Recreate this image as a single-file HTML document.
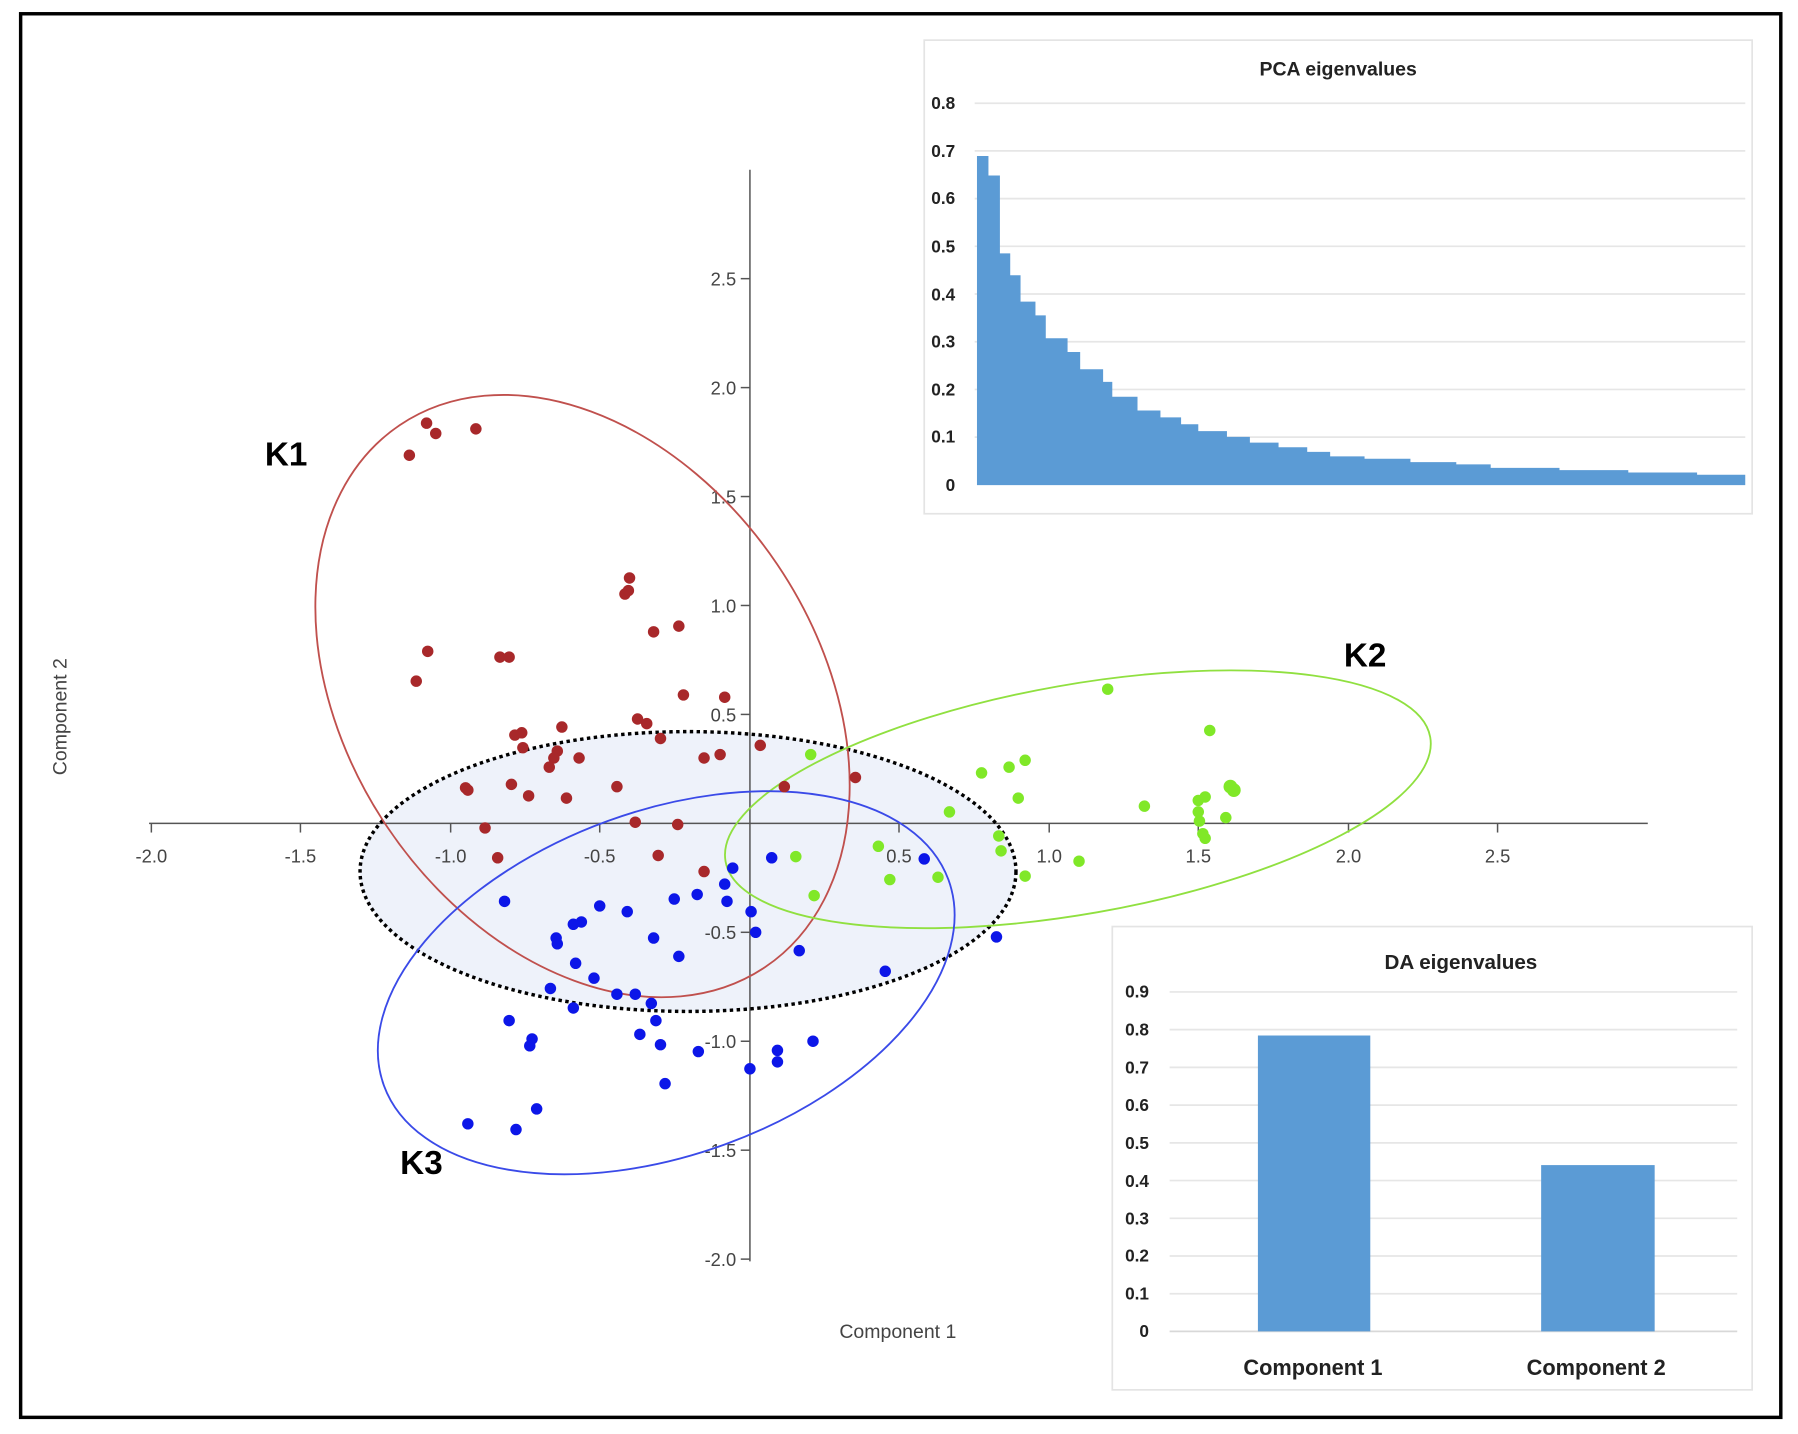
<!DOCTYPE html>
<html><head><meta charset="utf-8"><style>
html,body{margin:0;padding:0;background:#fff;}
svg{display:block;}
text{font-family:"Liberation Sans",sans-serif;}
</style></head><body>
<svg width="1798" height="1434" viewBox="0 0 1568 1250.5" preserveAspectRatio="none" xmlns="http://www.w3.org/2000/svg">
<rect x="0" y="0" width="1568" height="1251" fill="#fff"/>
<rect x="18" y="12" width="1535" height="1224" fill="none" stroke="#000" stroke-width="3"/>

<ellipse cx="600" cy="760" rx="286" ry="122" fill="#eef2fa"/>

<g stroke="#555" stroke-width="1.3">
<line x1="130" y1="718" x2="1437" y2="718"/>
<line x1="654" y1="148" x2="654" y2="1100"/>
<line x1="132" y1="718" x2="132" y2="726"/><line x1="262" y1="718" x2="262" y2="726"/><line x1="393" y1="718" x2="393" y2="726"/><line x1="523" y1="718" x2="523" y2="726"/><line x1="784" y1="718" x2="784" y2="726"/><line x1="915" y1="718" x2="915" y2="726"/><line x1="1045" y1="718" x2="1045" y2="726"/><line x1="1176" y1="718" x2="1176" y2="726"/><line x1="1306" y1="718" x2="1306" y2="726"/>
<line x1="646" y1="243" x2="654" y2="243"/><line x1="646" y1="338" x2="654" y2="338"/><line x1="646" y1="433" x2="654" y2="433"/><line x1="646" y1="528" x2="654" y2="528"/><line x1="646" y1="623" x2="654" y2="623"/><line x1="646" y1="813" x2="654" y2="813"/><line x1="646" y1="908" x2="654" y2="908"/><line x1="646" y1="1003" x2="654" y2="1003"/><line x1="646" y1="1098" x2="654" y2="1098"/>
</g>
<g font-size="16" fill="#444" text-anchor="middle">
<text x="132" y="752">-2.0</text><text x="262" y="752">-1.5</text><text x="393" y="752">-1.0</text><text x="523" y="752">-0.5</text><text x="784" y="752">0.5</text><text x="915" y="752">1.0</text><text x="1045" y="752">1.5</text><text x="1176" y="752">2.0</text><text x="1306" y="752">2.5</text>
</g>
<g font-size="16" fill="#444" text-anchor="end">
<text x="642" y="249">2.5</text><text x="642" y="344">2.0</text><text x="642" y="439">1.5</text><text x="642" y="534">1.0</text><text x="642" y="629">0.5</text><text x="642" y="819">-0.5</text><text x="642" y="914">-1.0</text><text x="642" y="1009">-1.5</text><text x="642" y="1104">-2.0</text>
</g>
<text x="783" y="1167" font-size="17" fill="#444" text-anchor="middle">Component 1</text>
<text transform="translate(58,625) rotate(-90)" font-size="17" fill="#444" text-anchor="middle">Component 2</text>

<ellipse cx="600" cy="760" rx="286" ry="122" fill="none" stroke="#000" stroke-width="3" stroke-dasharray="3,3"/>
<ellipse cx="508" cy="607" rx="205" ry="285" transform="rotate(-34 508 607)" fill="none" stroke="#c0504d" stroke-width="1.6"/>
<ellipse cx="940" cy="697" rx="312" ry="100" transform="rotate(-10 940 697)" fill="none" stroke="#90e040" stroke-width="1.6"/>
<ellipse cx="581" cy="857" rx="262" ry="150" transform="rotate(-20 581 857)" fill="none" stroke="#3a4ae8" stroke-width="1.6"/>

<g fill="#a8282a">
<circle cx="357" cy="397" r="5"/><circle cx="372" cy="369" r="5"/><circle cx="380" cy="378" r="5"/><circle cx="415" cy="374" r="5"/><circle cx="549" cy="504" r="5"/><circle cx="545" cy="518" r="5"/><circle cx="548" cy="515" r="5"/><circle cx="570" cy="551" r="5"/><circle cx="592" cy="546" r="5"/><circle cx="373" cy="568" r="5"/><circle cx="363" cy="594" r="5"/><circle cx="436" cy="573" r="5"/><circle cx="444" cy="573" r="5"/><circle cx="596" cy="606" r="5"/><circle cx="632" cy="608" r="5"/><circle cx="449" cy="641" r="5"/><circle cx="455" cy="639" r="5"/><circle cx="490" cy="634" r="5"/><circle cx="556" cy="627" r="5"/><circle cx="564" cy="631" r="5"/><circle cx="576" cy="644" r="5"/><circle cx="456" cy="652" r="5"/><circle cx="486" cy="655" r="5"/><circle cx="483" cy="661" r="5"/><circle cx="479" cy="669" r="5"/><circle cx="505" cy="661" r="5"/><circle cx="614" cy="661" r="5"/><circle cx="628" cy="658" r="5"/><circle cx="663" cy="650" r="5"/><circle cx="746" cy="678" r="5"/><circle cx="406" cy="687" r="5"/><circle cx="408" cy="689" r="5"/><circle cx="446" cy="684" r="5"/><circle cx="461" cy="694" r="5"/><circle cx="494" cy="696" r="5"/><circle cx="538" cy="686" r="5"/><circle cx="684" cy="686" r="5"/><circle cx="423" cy="722" r="5"/><circle cx="554" cy="717" r="5"/><circle cx="591" cy="719" r="5"/><circle cx="434" cy="748" r="5"/><circle cx="574" cy="746" r="5"/><circle cx="614" cy="760" r="5"/>
</g>
<g fill="#80e828">
<circle cx="966" cy="601" r="5"/><circle cx="1055" cy="637" r="5"/><circle cx="707" cy="658" r="5"/><circle cx="856" cy="674" r="5"/><circle cx="880" cy="669" r="5"/><circle cx="894" cy="663" r="5"/><circle cx="888" cy="696" r="5"/><circle cx="828" cy="708" r="5"/><circle cx="998" cy="703" r="5"/><circle cx="1045" cy="698" r="5"/><circle cx="1051" cy="695" r="5"/><circle cx="1073" cy="686" r="6"/><circle cx="1076" cy="689" r="6"/><circle cx="1045" cy="708" r="5"/><circle cx="1046" cy="716" r="5"/><circle cx="1069" cy="713" r="5"/><circle cx="1049" cy="727" r="5"/><circle cx="1051" cy="731" r="5"/><circle cx="694" cy="747" r="5"/><circle cx="710" cy="781" r="5"/><circle cx="766" cy="738" r="5"/><circle cx="776" cy="767" r="5"/><circle cx="818" cy="765" r="5"/><circle cx="871" cy="729" r="5"/><circle cx="873" cy="742" r="5"/><circle cx="894" cy="764" r="5"/><circle cx="941" cy="751" r="5"/>
</g>
<g fill="#0c16e8">
<circle cx="639" cy="757" r="5"/><circle cx="673" cy="748" r="5"/><circle cx="632" cy="771" r="5"/><circle cx="634" cy="786" r="5"/><circle cx="608" cy="780" r="5"/><circle cx="588" cy="784" r="5"/><circle cx="440" cy="786" r="5"/><circle cx="523" cy="790" r="5"/><circle cx="547" cy="795" r="5"/><circle cx="507" cy="804" r="5"/><circle cx="500" cy="806" r="5"/><circle cx="485" cy="818" r="5"/><circle cx="486" cy="823" r="5"/><circle cx="570" cy="818" r="5"/><circle cx="592" cy="834" r="5"/><circle cx="655" cy="795" r="5"/><circle cx="659" cy="813" r="5"/><circle cx="697" cy="829" r="5"/><circle cx="502" cy="840" r="5"/><circle cx="518" cy="853" r="5"/><circle cx="480" cy="862" r="5"/><circle cx="538" cy="867" r="5"/><circle cx="554" cy="867" r="5"/><circle cx="500" cy="879" r="5"/><circle cx="568" cy="875" r="5"/><circle cx="572" cy="890" r="5"/><circle cx="806" cy="749" r="5"/><circle cx="772" cy="847" r="5"/><circle cx="869" cy="817" r="5"/><circle cx="444" cy="890" r="5"/><circle cx="558" cy="902" r="5"/><circle cx="576" cy="911" r="5"/><circle cx="464" cy="906" r="5"/><circle cx="462" cy="912" r="5"/><circle cx="609" cy="917" r="5"/><circle cx="654" cy="932" r="5"/><circle cx="678" cy="916" r="5"/><circle cx="678" cy="926" r="5"/><circle cx="709" cy="908" r="5"/><circle cx="580" cy="945" r="5"/><circle cx="468" cy="967" r="5"/><circle cx="408" cy="980" r="5"/><circle cx="450" cy="985" r="5"/>
</g>

<g font-size="29" font-weight="bold" fill="#000">
<text x="231" y="406">K1</text><text x="1172" y="581">K2</text><text x="349" y="1024">K3</text>
</g>

<rect x="806" y="35" width="722" height="413" fill="#fff" stroke="#e4e4e4" stroke-width="1.5"/>
<text x="1167" y="66" font-size="17" font-weight="bold" fill="#222" text-anchor="middle">PCA eigenvalues</text>
<g stroke="#e6e6e6" stroke-width="1.5">
<line x1="850" y1="90" x2="1522" y2="90"/><line x1="850" y1="131.6" x2="1522" y2="131.6"/><line x1="850" y1="173.2" x2="1522" y2="173.2"/><line x1="850" y1="214.8" x2="1522" y2="214.8"/><line x1="850" y1="256.4" x2="1522" y2="256.4"/><line x1="850" y1="298" x2="1522" y2="298"/><line x1="850" y1="339.6" x2="1522" y2="339.6"/><line x1="850" y1="381.2" x2="1522" y2="381.2"/>
</g>
<g font-size="15" font-weight="bold" fill="#222" text-anchor="end">
<text x="833" y="95">0.8</text><text x="833" y="137">0.7</text><text x="833" y="178">0.6</text><text x="833" y="220">0.5</text><text x="833" y="262">0.4</text><text x="833" y="303">0.3</text><text x="833" y="345">0.2</text><text x="833" y="386">0.1</text><text x="833" y="428">0</text>
</g>
<path fill="#5b9bd5" d="M852,423 V136 H862 V153 H872 V221 H881 V240 H890 V263 H903 V275 H912 V295 H931 V307 H942 V322 H962 V333 H970 V346 H992 V358 H1012 V364 H1030 V370 H1045 V376 H1070 V381 H1090 V386 H1115 V390 H1140 V394 H1160 V398 H1190 V400 H1230 V403 H1270 V405 H1300 V408 H1360 V410 H1420 V412 H1480 V414 H1522 V423 Z"/>

<rect x="970" y="808" width="558" height="404" fill="#fff" stroke="#e4e4e4" stroke-width="1.5"/>
<text x="1274" y="845" font-size="18" font-weight="bold" fill="#222" text-anchor="middle">DA eigenvalues</text>
<g stroke="#e6e6e6" stroke-width="1.5">
<line x1="1020" y1="865" x2="1515" y2="865"/><line x1="1020" y1="897.9" x2="1515" y2="897.9"/><line x1="1020" y1="930.8" x2="1515" y2="930.8"/><line x1="1020" y1="963.7" x2="1515" y2="963.7"/><line x1="1020" y1="996.6" x2="1515" y2="996.6"/><line x1="1020" y1="1029.5" x2="1515" y2="1029.5"/><line x1="1020" y1="1062.4" x2="1515" y2="1062.4"/><line x1="1020" y1="1095.3" x2="1515" y2="1095.3"/><line x1="1020" y1="1128.2" x2="1515" y2="1128.2"/><line x1="1020" y1="1161" x2="1515" y2="1161" stroke="#d8d8d8"/>
</g>
<g font-size="15" font-weight="bold" fill="#222" text-anchor="end">
<text x="1002" y="870">0.9</text><text x="1002" y="903">0.8</text><text x="1002" y="936">0.7</text><text x="1002" y="969">0.6</text><text x="1002" y="1002">0.5</text><text x="1002" y="1035">0.4</text><text x="1002" y="1068">0.3</text><text x="1002" y="1100">0.2</text><text x="1002" y="1133">0.1</text><text x="1002" y="1166">0</text>
</g>
<rect x="1097" y="903" width="98" height="258" fill="#5b9bd5"/>
<rect x="1344" y="1016" width="99" height="145" fill="#5b9bd5"/>
<g font-size="19" font-weight="bold" fill="#222" text-anchor="middle">
<text x="1145" y="1199">Component 1</text><text x="1392" y="1199">Component 2</text>
</g>
</svg>
</body></html>
